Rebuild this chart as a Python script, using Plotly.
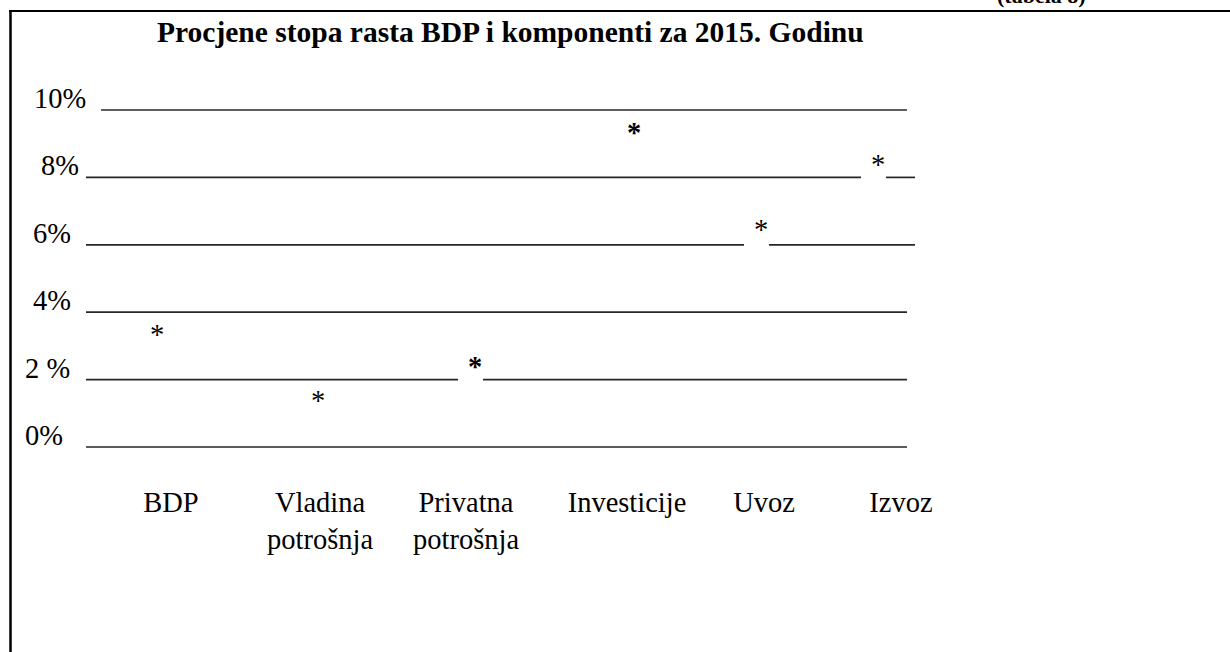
import plotly.graph_objects as go

# ---------------- data ----------------
categories = ["BDP", "Vladina<br>potrošnja", "Privatna<br>potrošnja", "Investicije", "Uvoz", "Izvoz"]
growth = [3.4, 1.45, 2.45, 9.4, 6.5, 8.45]          # estimated growth rate, %
bold_mark = [False, False, True, True, False, False]
grid_levels = [0, 2, 4, 6, 8, 10]
grid_labels = ["0%", "2 %", "4%", "6%", "8%", "10%"]
title_text = "Procjene stopa rasta BDP i komponenti za 2015. Godinu"
note_text = "(tabela 8)"

# ---------------- layout constants (pixels) ----------------
W, H = 1230, 652
PLOT_BOTTOM = 470
Y0_PX, Y10_PX = 447, 110
FONT = "Liberation Serif, Times New Roman, serif"
FS = 28.5
mark_x = [157, 318, 475, 634, 761, 878]
label_x = [171, 320, 466, 627, 764, 901]
grid_start = {0: 86, 2: 86, 4: 86, 6: 86, 8: 86, 10: 101}
grid_end = {0: 907, 2: 907, 4: 907, 6: 915, 8: 915, 10: 907}
grid_label_left = {0: 23, 2: 23, 4: 31, 6: 31, 8: 39, 10: 32}
GAP_BEFORE, GAP_AFTER = 17, 8

px_per_unit = (Y0_PX - Y10_PX) / 10.0
y_max = 10 + Y10_PX / px_per_unit
y_min = -(PLOT_BOTTOM - Y0_PX) / px_per_unit


def py(pixel):
    return 1 - pixel / PLOT_BOTTOM


fig = go.Figure()

# gridlines (underscore rows), broken where a star sits on the row
gx, gy = [], []
for lev in grid_levels:
    gaps = sorted((mx - GAP_BEFORE, mx + GAP_AFTER)
                  for mx, v in zip(mark_x, growth) if 0 < v - lev < 0.6)
    start = grid_start[lev]
    for g0, g1 in gaps:
        gx += [start, g0, None]
        gy += [lev, lev, None]
        start = g1
    gx += [start, grid_end[lev], None]
    gy += [lev, lev, None]

fig.add_trace(go.Scatter(x=gx, y=gy, mode="lines",
                         line=dict(color="#262626", width=1.7),
                         hoverinfo="skip", showlegend=False))

# invisible points carrying the values (for hover)
fig.add_trace(go.Scatter(x=mark_x, y=growth, mode="markers",
                         marker=dict(size=14, opacity=0),
                         text=[c.replace("<br>", " ") for c in categories],
                         hovertemplate="%{text}: %{y:.1f}%<extra></extra>",
                         showlegend=False))

annotations = []
# star marks
for mx, v, b in zip(mark_x, growth, bold_mark):
    annotations.append(dict(x=mx, y=v, xref="x", yref="y",
                            text="<b>*</b>" if b else "*",
                            showarrow=False, xanchor="center", yanchor="middle",
                            yshift=-2, font=dict(family=FONT, size=FS, color="black")))
# y labels
for lev, lab in zip(grid_levels, grid_labels):
    annotations.append(dict(x=grid_label_left[lev] / W, y=lev, xref="paper", yref="y",
                            text=lab, showarrow=False, xanchor="left", yanchor="middle",
                            yshift=11.5, font=dict(family=FONT, size=FS, color="black")))
# title
annotations.append(dict(x=510 / W, y=py(32), xref="paper", yref="paper",
                        text="<b>" + title_text + "</b>", showarrow=False,
                        xanchor="center", yanchor="middle",
                        font=dict(family=FONT, size=29.5, color="black")))
# note, cut off at the top edge as in the source
annotations.append(dict(x=1088 / W, y=py(-4.4), xref="paper", yref="paper",
                        text="<b>" + note_text + "</b>", showarrow=False,
                        xanchor="right", yanchor="middle",
                        font=dict(family=FONT, size=22, color="black")))

shapes = [
    dict(type="line", xref="paper", yref="paper", x0=9 / W, x1=1.0, y0=py(11), y1=py(11),
         line=dict(color="black", width=2)),
    dict(type="line", xref="paper", yref="paper", x0=10.5 / W, x1=10.5 / W, y0=py(10), y1=py(H + 5),
         line=dict(color="black", width=2.5)),
]

fig.update_layout(
    width=W, height=H,
    margin=dict(l=0, r=0, t=0, b=H - PLOT_BOTTOM, pad=0),
    paper_bgcolor="white", plot_bgcolor="white",
    showlegend=False,
    annotations=annotations,
    shapes=shapes,
    xaxis=dict(range=[0, W], tickvals=label_x, ticktext=categories,
               showgrid=False, zeroline=False, showline=False, ticks="",
               ticklabelstandoff=12,
               tickfont=dict(family=FONT, size=FS, color="black"), fixedrange=True),
    yaxis=dict(range=[y_min, y_max], visible=False, fixedrange=True),
    font=dict(family=FONT, color="black"),
)

fig.write_html("out.html",
               config={"displayModeBar": False},
               post_script="document.body.style.margin='0';"
                           "document.documentElement.style.overflow='hidden';")
